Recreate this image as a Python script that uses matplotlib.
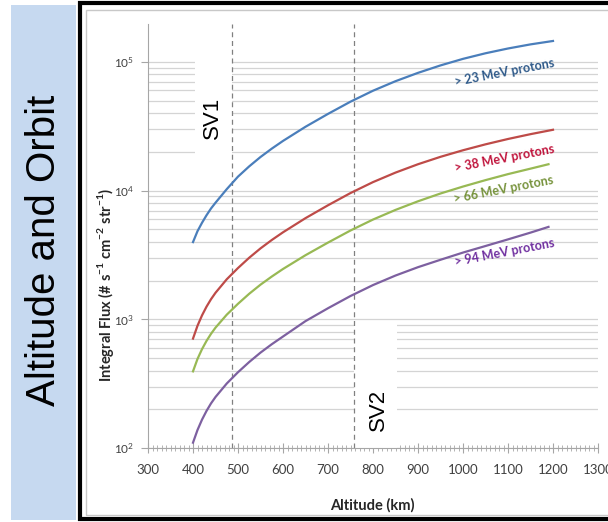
import matplotlib.pyplot as plt
from matplotlib.patches import Rectangle
from matplotlib.ticker import LogLocator, MultipleLocator, NullFormatter

plt.rcParams['font.family'] = ['Lato', 'DejaVu Sans']
plt.rcParams['mathtext.fontset'] = 'custom'
plt.rcParams['mathtext.rm'] = 'Lato'
plt.rcParams['mathtext.bf'] = 'Lato:bold'

# values (altitude in km, flux in # s-1 cm-2 str-1)
alt = [400, 410, 420, 430, 440, 450, 475, 500, 525, 550, 575, 600, 650, 700, 750,
       800, 850, 900, 950, 1000, 1050, 1100, 1150, 1200]
alt_short = [400, 410, 420, 430, 440, 450, 475, 500, 525, 550, 575, 600, 650, 700, 750,
             800, 850, 900, 950, 1000, 1050, 1100, 1150, 1190]
flux_23 = [3980, 4840, 5620, 6430, 7260, 8050, 10260, 12840, 15440, 18240, 21180, 24320,
           31330, 39450, 49090, 59700, 70800, 82200, 93900, 105600, 116700, 127100, 136800, 145400]
flux_38 = [708, 891, 1072, 1253, 1432, 1607, 2046, 2503, 3010, 3556, 4130, 4742,
           6109, 7691, 9572, 11640, 13800, 16030, 18300, 20580, 22880, 25180, 27450, 29690]
flux_66 = [394, 492, 586, 679, 771, 861, 1086, 1320, 1580, 1858, 2148, 2460,
           3148, 3945, 4898, 5957, 7079, 8260, 9495, 10750, 12060, 13430, 14810, 16030]
flux_94 = [110, 138, 166, 194, 222, 249, 317, 388, 466, 551, 640, 735,
           968, 1219, 1517, 1845, 2188, 2541, 2901, 3300, 3711, 4178, 4715, 5224]

labels = ['> 23 MeV protons', '> 38 MeV protons', '> 66 MeV protons', '> 94 MeV protons']
sv_alt = [487, 758]
sv_names = ['SV1', 'SV2']

W, H = 608, 522


def fx(px):
    return px / W


def fy(py):
    return 1 - py / H


fig = plt.figure(figsize=(W / 100, H / 100), dpi=100)

# left blue panel + frame
fig.add_artist(Rectangle((fx(11), fy(520)), (76 - 11) / W, (520 - 5) / H,
                         transform=fig.transFigure, facecolor='#c6d9f0', edgecolor='none', zorder=0))
fig.add_artist(Rectangle((fx(79.5), fy(519)), 1.05, (519 - 3) / H,
                         transform=fig.transFigure, facecolor='white', edgecolor='black',
                         linewidth=3, zorder=0))
fig.add_artist(Rectangle((fx(86), fy(515)), 1.05, (515 - 10) / H,
                         transform=fig.transFigure, facecolor='none', edgecolor='#c8c8c8',
                         linewidth=1, zorder=0.5))
fig.text(fx(44), fy(250), 'Altitude and Orbit', rotation=90, fontsize=29,
         family='Liberation Sans', ha='center', va='center')

ax = fig.add_axes([fx(148), fy(448), (598 - 148) / W, (448 - 24) / H])
ax.patch.set_alpha(0)

series = [(alt, flux_23, '#4a7ebb', '#2f5a8a'),
          (alt, flux_38, '#be4b48', '#c0143c'),
          (alt_short, flux_66, '#98b954', '#77933c'),
          (alt_short, flux_94, '#7d60a0', '#7030a0')]
for x, y, c, _ in series:
    ax.plot(x, y, color=c, linewidth=1.6, zorder=4, solid_joinstyle='round')

ax.set_yscale('log')
ax.set_xlim(300, 1300)
ax.set_ylim(100, 1.97e5)

ax.yaxis.set_major_locator(LogLocator(base=10))
ax.yaxis.set_minor_locator(LogLocator(base=10, subs=range(2, 10)))
ax.yaxis.set_minor_formatter(NullFormatter())
ax.xaxis.set_major_locator(MultipleLocator(100))
ax.xaxis.set_minor_locator(MultipleLocator(10))

ax.grid(True, axis='y', which='both', color='#d4d4d4', linewidth=0.9, zorder=1)
ax.set_axisbelow(True)

# white boxes behind the SV labels
ax.add_patch(Rectangle((404, 1.05e4), 487 - 404, 1.15e5 - 1.05e4, facecolor='white',
                       edgecolor='none', zorder=2))
ax.add_patch(Rectangle((758, 100), 853 - 758, 950 - 100, facecolor='white',
                       edgecolor='none', zorder=2))

for a in sv_alt:
    ax.axvline(a, color='#808080', linewidth=0.9, dashes=(4, 3), zorder=3)

ax.text(444, 3.67e4, sv_names[0], rotation=90, fontsize=16, family='Liberation Sans',
        ha='center', va='center', zorder=5)
ax.text(813, 197, sv_names[1], rotation=90, fontsize=16, family='Liberation Sans',
        ha='center', va='center', zorder=5)

label_pos = [(1093, 8.3e4), (1093, 1.77e4), (1090, 1.02e4), (1093, 3300)]
for (x, y, c, lc), lab, (lx, ly) in zip(series, labels, label_pos):
    ax.text(lx, ly, lab, color=lc, fontsize=9, fontweight='bold', rotation=11,
            ha='center', va='center', zorder=5)

for s in ['top', 'right']:
    ax.spines[s].set_visible(False)
for s in ['left', 'bottom']:
    ax.spines[s].set_color('#a6a6a6')
    ax.spines[s].set_zorder(3)

ax.tick_params(axis='y', which='major', length=5, color='#a6a6a6', labelsize=8.5,
               labelcolor='#404040', pad=5)
ax.tick_params(axis='y', which='minor', length=0)
ax.tick_params(axis='x', which='major', direction='inout', length=7, color='#a6a6a6',
               labelsize=9.5, labelcolor='#404040', pad=8)
ax.tick_params(axis='x', which='minor', direction='inout', length=4, color='#a6a6a6')

fig.text(fx(372), fy(505), 'Altitude (km)', fontsize=10.5, fontweight='bold',
         ha='center', va='center', color='#262626')
fig.text(fx(105), fy(285), r'Integral Flux (# s$^{\mathbf{-1}}$ cm$^{\mathbf{-2}}$ str$^{\mathbf{-1}}$)',
         rotation=90, fontsize=10.5, fontweight='bold', ha='center', va='center', color='#262626')

fig.savefig('out.png', dpi=100)
